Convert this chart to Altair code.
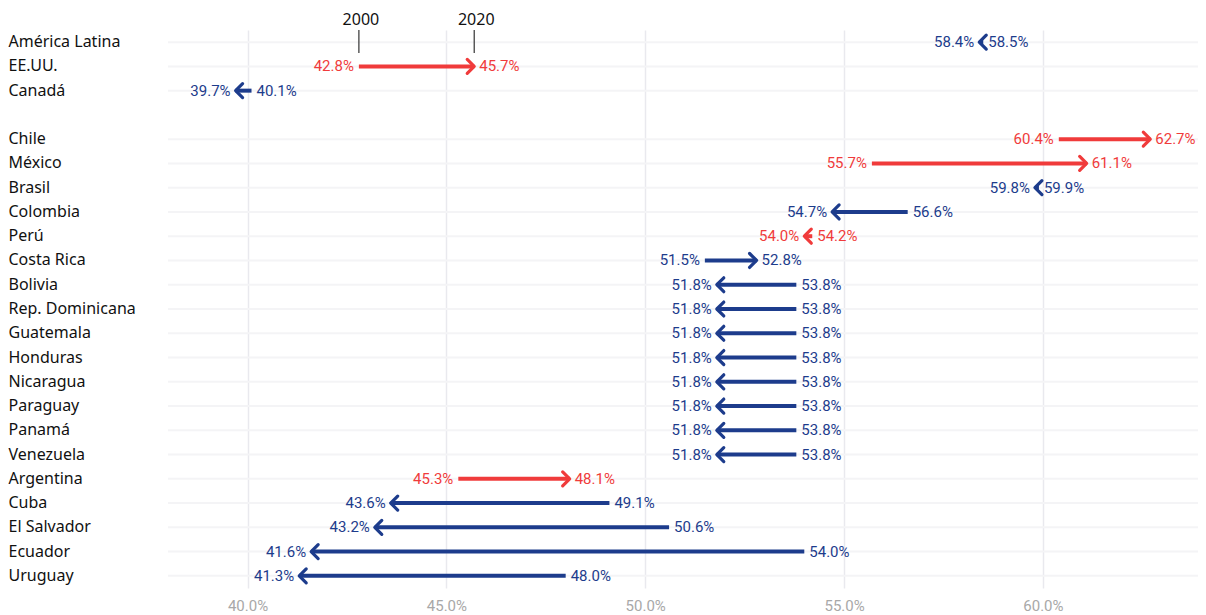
import altair as alt
import pandas as pd

countries = ["América Latina", "EE.UU.", "Canadá", " ", "Chile", "México", "Brasil",
             "Colombia", "Perú", "Costa Rica", "Bolivia", "Rep. Dominicana", "Guatemala",
             "Honduras", "Nicaragua", "Paraguay", "Panamá", "Venezuela", "Argentina",
             "Cuba", "El Salvador", "Ecuador", "Uruguay"]
v2000 = [58.5, 42.8, 40.1, None, 60.4, 55.7, 59.9, 56.6, 54.2, 51.5, 53.8, 53.8, 53.8,
         53.8, 53.8, 53.8, 53.8, 53.8, 45.3, 49.1, 50.6, 54.0, 48.0]
v2020 = [58.4, 45.7, 39.7, None, 62.7, 61.1, 59.8, 54.7, 54.0, 52.8, 51.8, 51.8, 51.8,
         51.8, 51.8, 51.8, 51.8, 51.8, 48.1, 43.6, 43.2, 41.6, 41.3]
highlight = ["blue", "red", "blue", None, "red", "red", "blue", "blue", "red", "blue",
             "blue", "blue", "blue", "blue", "blue", "blue", "blue", "blue", "red",
             "blue", "blue", "blue", "blue"]
header_labels = ["2000", "2020"]
header_values = [42.8, 45.7]
x_ticks = [40, 45, 50, 55, 60]

df = pd.DataFrame({"pais": countries, "v2000": v2000, "v2020": v2020, "grupo": highlight})
df = df.dropna(subset=["v2000"]).copy()
df["lo"] = df[["v2000", "v2020"]].min(axis=1)
df["hi"] = df[["v2000", "v2020"]].max(axis=1)
df["lo_txt"] = df["lo"].map(lambda v: f"{v:.1f}%")
df["hi_txt"] = df["hi"].map(lambda v: f"{v:.1f}%")
df["ang"] = (df["v2020"] < df["v2000"]).map({True: 180, False: 0})

hdr = pd.DataFrame({"lbl": header_labels, "x": header_values})

line_col = alt.Scale(domain=["red", "blue"], range=["#f03b3b", "#1d3c8c"])
text_col = alt.Scale(domain=["red", "blue"], range=["#ef5468", "#34469a"])

xs = alt.Scale(domain=[38, 63.9], nice=False, zero=False)
ys = alt.Scale(domain=countries, padding=0)

X = lambda f: alt.X(f"{f}:Q", scale=xs, axis=alt.Axis(
    values=x_ticks, labelExpr="format(datum.value, '.1f') + '%'", title=None,
    domain=False, ticks=False, grid=True, gridColor="#e9e9ee", gridWidth=1.5,
    labelColor="#a8a8a8", labelFont="Roboto", labelFontSize=15, labelPadding=10))
Y = alt.Y("pais:N", scale=ys, sort=countries, axis=alt.Axis(
    title=None, domain=False, ticks=False, labelAlign="left", labelPadding=160,
    labelFont="Noto Sans", labelFontSize=16, labelColor="#111111", grid=False))

base = alt.Chart(df)

rowlines = base.mark_rule(color="#f4f4f6", strokeWidth=2).encode(
    y=Y, x=alt.value(0), x2=alt.value(1030))

rules = base.mark_rule(strokeWidth=4).encode(
    x=X("v2000"), x2="v2020", y=Y,
    color=alt.Color("grupo:N", scale=line_col, legend=None))

heads = base.mark_point(
    shape="M-1,-1L0,0L-1,1", filled=False, strokeWidth=3.2, size=195,
    strokeJoin="round", strokeCap="round", opacity=1).encode(
    x=X("v2020"), y=Y, angle=alt.Angle("ang:Q", scale=None),
    color=alt.Color("grupo:N", scale=line_col, legend=None))

lo_txt = base.mark_text(align="right", dx=-5, font="Roboto", fontSize=15).encode(
    x=X("lo"), y=Y, text="lo_txt:N",
    color=alt.Color("grupo:N", scale=text_col, legend=None))
hi_txt = base.mark_text(align="left", dx=5, font="Roboto", fontSize=15).encode(
    x=X("hi"), y=Y, text="hi_txt:N",
    color=alt.Color("grupo:N", scale=text_col, legend=None))

hbase = alt.Chart(hdr)
htext = hbase.mark_text(font="Noto Sans", fontSize=16, color="#111111",
                        baseline="middle", dx=2).encode(
    x=X("x"), y=alt.value(-10), text="lbl:N")
hline = hbase.mark_rule(color="#333333", strokeWidth=1.2).encode(
    x=X("x"), y=alt.value(0), y2=alt.value(23))

chart = alt.layer(rowlines, rules, heads, lo_txt, hi_txt, htext, hline).properties(
    width=1030, height=558,
    autosize=alt.AutoSizeParams(type="none"),
    padding={"left": 160, "top": 22, "right": 0, "bottom": 26},
).configure_view(stroke=None)

chart.save("out.html", embed_options={"renderer": "svg", "actions": False})
